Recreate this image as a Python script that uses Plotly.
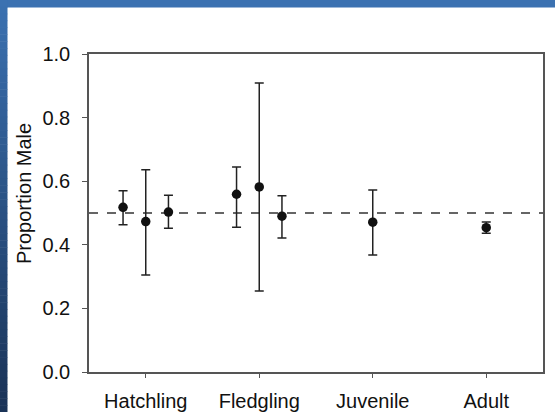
import plotly.graph_objects as go

categories = ["Hatchling", "Fledgling", "Juvenile", "Adult"]

hatch_vals = [0.518, 0.473, 0.503]
hatch_upper = [0.570, 0.636, 0.556]
hatch_lower = [0.463, 0.305, 0.452]

fledg_vals = [0.559, 0.582, 0.490]
fledg_upper = [0.645, 0.909, 0.554]
fledg_lower = [0.455, 0.255, 0.421]

juv_vals = [0.471]
juv_upper = [0.572]
juv_lower = [0.368]

adult_vals = [0.454]
adult_upper = [0.472]
adult_lower = [0.436]

y_ticks = [0.0, 0.2, 0.4, 0.6, 0.8, 1.0]
ref_line = 0.5

groups = [
    (hatch_vals, hatch_upper, hatch_lower),
    (fledg_vals, fledg_upper, fledg_lower),
    (juv_vals, juv_upper, juv_lower),
    (adult_vals, adult_upper, adult_lower),
]

xs, ys, eplus, eminus = [], [], [], []
for gi, (v, u, l) in enumerate(groups):
    n = len(v)
    for k in range(n):
        off = (k - (n - 1) / 2) * 0.2
        xs.append(gi + 1 + off)
        ys.append(v[k])
        eplus.append(u[k] - v[k])
        eminus.append(v[k] - l[k])

fig = go.Figure()
fig.add_trace(go.Scatter(
    x=xs, y=ys, mode="markers",
    marker=dict(color="#111111", size=9.5),
    error_y=dict(type="data", symmetric=False, array=eplus, arrayminus=eminus,
                 color="#222222", thickness=1.5, width=4.5),
    showlegend=False,
))

W, H = 555, 412
ml, mr, mt, mb = 89, 12, 54, 40
pw, ph = W - ml - mr, H - mt - mb

def px_x(p):
    return (p - ml) / pw

def px_y(p):
    return 1 - (p - mt) / ph

shapes = []
shapes.append(dict(type="line", xref="paper", yref="y", x0=0, x1=1, y0=ref_line, y1=ref_line,
                   line=dict(color="#333333", width=1.5, dash="dash"), layer="below"))
shapes.append(dict(type="rect", xref="paper", yref="paper", x0=px_x(0), x1=px_x(W),
                   y0=px_y(0), y1=px_y(7.5), fillcolor="#3B71B1", line=dict(width=0)))
top_c = (0x3B, 0x71, 0xB1)
bot_c = (0x1A, 0x33, 0x57)
N = 60
for i in range(N):
    t = i / (N - 1)
    c = tuple(int(round(top_c[j] + (bot_c[j] - top_c[j]) * t)) for j in range(3))
    y0p = i * H / N
    y1p = (i + 1) * H / N + 0.5
    shapes.append(dict(type="rect", xref="paper", yref="paper", x0=px_x(0), x1=px_x(7.5),
                       y0=px_y(y1p), y1=px_y(y0p),
                       fillcolor="rgb(%d,%d,%d)" % c, line=dict(width=0)))

fig.update_layout(
    width=W, height=H,
    margin=dict(l=ml, r=mr, t=mt, b=mb),
    paper_bgcolor="white", plot_bgcolor="white",
    font=dict(family="Liberation Sans, Arial, sans-serif", size=20, color="#111111"),
    shapes=shapes,
    xaxis=dict(range=[0.5, 4.5], tickvals=[1, 2, 3, 4], ticktext=categories,
               showgrid=False, zeroline=False, showline=True, linecolor="#555555",
               linewidth=1.5, mirror=True, ticks="outside", ticklen=4, tickcolor="#555555",
               ticklabelstandoff=6, automargin=False),
    yaxis=dict(range=[0, 1], tickvals=y_ticks, tickformat=".1f",
               showgrid=False, zeroline=False, showline=True, linecolor="#555555",
               linewidth=1.5, mirror=True, ticks="outside", ticklen=5, tickcolor="#555555",
               ticklabelstandoff=8, automargin=False),
    annotations=[dict(text="Proportion Male", xref="paper", yref="paper",
                      x=px_x(24), y=px_y(194), textangle=-90, showarrow=False,
                      xanchor="center", yanchor="middle",
                      font=dict(size=20, color="#111111"))],
)

fig.write_html("out.html", config={"displayModeBar": False},
               post_script="document.body.style.margin='0';document.body.style.overflow='hidden';")
